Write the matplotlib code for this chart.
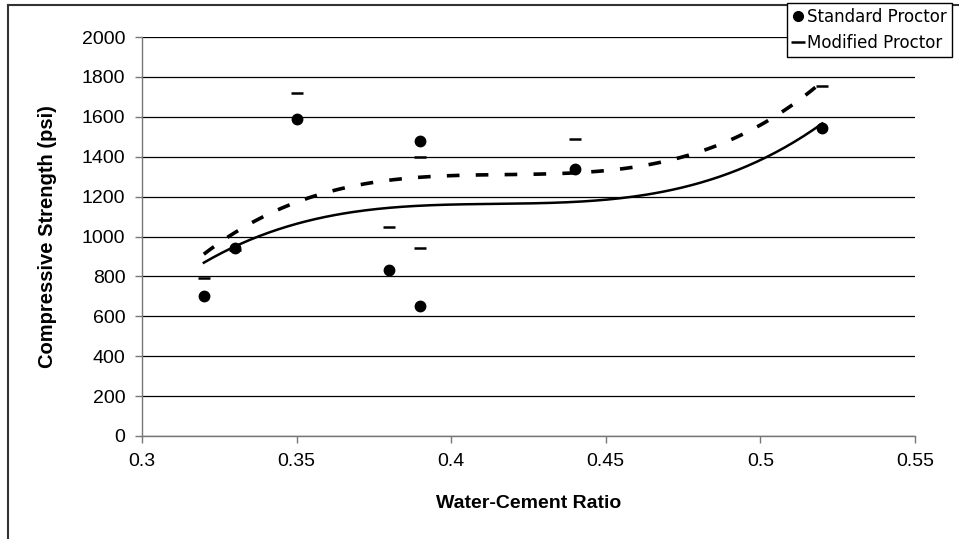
import numpy as np
import matplotlib
matplotlib.use("Agg")
import matplotlib.pyplot as plt
from matplotlib.lines import Line2D

# water-cement ratio and strength (psi)
wc = [0.32, 0.33, 0.35, 0.38, 0.39, 0.39, 0.44, 0.52]
standard = [700, 940, 1590, 830, 1480, 650, 1340, 1545]
modified = [790, 930, 1720, 1050, 1400, 940, 1490, 1755]

xticks = [0.3, 0.35, 0.4, 0.45, 0.5, 0.55]
xticklabels = ["0.3", "0.35", "0.4", "0.45", "0.5", "0.55"]
yticks = list(range(0, 2001, 200))

plt.rcParams['font.family'] = ['Liberation Sans', 'DejaVu Sans']

fig = plt.figure(figsize=(9.59, 5.39), dpi=100, facecolor='white')
ax = fig.add_axes([142/959, 103/539, (915-142)/959, (436-37)/539])

# polynomial trendlines (order 3), as in the spreadsheet
xs = np.linspace(min(wc), max(wc), 200)
p_std = np.polyfit(wc, standard, 3)
p_mod = np.polyfit(wc, modified, 3)
ax.plot(xs, np.polyval(p_std, xs), color='black', lw=1.8, zorder=3)
ax.plot(xs, np.polyval(p_mod, xs), color='black', lw=2.6, ls=(0, (3.5, 4.5)), zorder=3)

ax.plot(wc, standard, 'o', color='black', ms=7.5, zorder=4)
ax.plot(wc, modified, '_', color='black', ms=9, mew=1.8, zorder=4)

ax.set_xlim(0.3, 0.55)
ax.set_ylim(0, 2000)
ax.set_xticks(xticks)
ax.set_xticklabels(xticklabels)
ax.set_yticks(yticks)
ax.grid(axis='y', color='black', lw=0.9)
ax.set_axisbelow(True)
for s in ['top', 'right']:
    ax.spines[s].set_visible(False)
for s in ['left', 'bottom']:
    ax.spines[s].set_color('#777777')
    ax.spines[s].set_linewidth(1.0)
ax.tick_params(axis='both', direction='out', length=5, width=1, color='#777777',
               labelsize=14, pad=7)

ax.set_xlabel('Water-Cement Ratio', fontsize=14, fontweight='bold', labelpad=18)
ax.set_ylabel('Compressive Strength (psi)', fontsize=14.5, fontweight='bold', labelpad=18)

# outer chart border (left and top visible)
fig.add_artist(Line2D([8/959, 8/959], [0, 1-5/539], transform=fig.transFigure,
                      color='#333333', lw=1.5))
fig.add_artist(Line2D([8/959, 1], [1-5/539, 1-5/539], transform=fig.transFigure,
                      color='#333333', lw=1.5))

handles = [Line2D([], [], marker='o', ls='none', color='black', ms=7),
           Line2D([], [], marker='_', ls='none', color='black', ms=10, mew=1.8)]
leg = fig.legend(handles, ['Standard Proctor', 'Modified Proctor'],
                 loc='upper left', bbox_to_anchor=(787/959, 1-3/539),
                 prop={'family': 'DejaVu Sans', 'size': 12},
                 frameon=True, fancybox=False, edgecolor='black', framealpha=1,
                 handlelength=0.7, handletextpad=0.2, borderpad=0.3,
                 labelspacing=0.45, borderaxespad=0)
leg.get_frame().set_linewidth(1.0)

fig.savefig('out.png', dpi=100)
